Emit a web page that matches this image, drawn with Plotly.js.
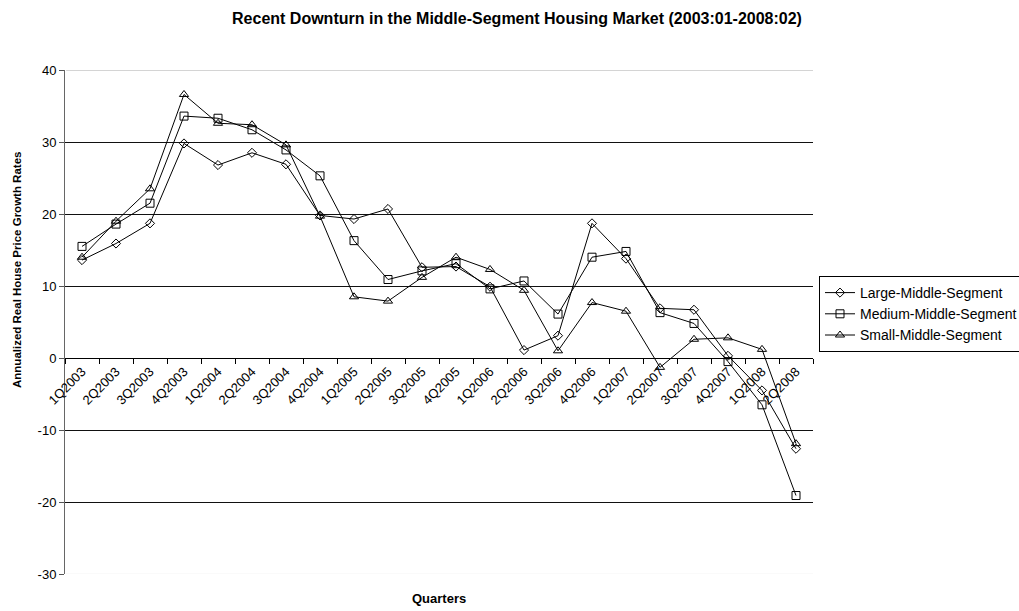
<!DOCTYPE html>
<html>
<head>
<meta charset="utf-8">
<script src="https://cdn.plot.ly/plotly-3.0.1.min.js"></script>
<style>html,body{margin:0;padding:0;background:#fff;}#chart{width:1019px;height:611px;}</style>
</head>
<body>
<div id="chart"></div>
<script>
const quarters = ["1Q2003","2Q2003","3Q2003","4Q2003","1Q2004","2Q2004","3Q2004","4Q2004",
  "1Q2005","2Q2005","3Q2005","4Q2005","1Q2006","2Q2006","3Q2006","4Q2006",
  "1Q2007","2Q2007","3Q2007","4Q2007","1Q2008","2Q2008"];
const largeMiddle = [13.6, 15.9, 18.7, 29.8, 26.8, 28.5, 26.9, 19.8, 19.3, 20.7, 12.6, 12.7, 9.9, 1.1, 3.1, 18.7, 13.8, 6.9, 6.7, 0.3, -4.5, -12.6];
const mediumMiddle = [15.5, 18.6, 21.5, 33.6, 33.3, 31.7, 28.9, 25.3, 16.3, 10.9, 12.1, 13.1, 9.6, 10.7, 6.1, 14.0, 14.8, 6.3, 4.8, -0.5, -6.5, -19.1];
const smallMiddle = [14.0, 19.0, 23.5, 36.6, 32.6, 32.4, 29.6, 19.7, 8.5, 7.9, 11.2, 14.0, 12.3, 9.4, 1.0, 7.7, 6.5, -1.3, 2.6, 2.8, 1.2, -11.9];
const yTickVals = [-30, -20, -10, 0, 10, 20, 30, 40];
const yTickText = ["-30", "-20", "-10", "0", "10", "20", "30", "40"];

const FONT = "Liberation Sans, Arial, sans-serif";
function mk(name, y, symbol, size) {
  return {
    type: "scatter", mode: "lines+markers", name: name, x: quarters, y: y,
    line: {color: "#000", width: 1},
    marker: {symbol: symbol, size: size, color: "#000", line: {color: "#000", width: 1}}
  };
}
const data = [
  mk("Large-Middle-Segment", largeMiddle, "diamond-open", 7),
  mk("Medium-Middle-Segment", mediumMiddle, "square-open", 8),
  mk("Small-Middle-Segment", smallMiddle, "triangle-up-open", 8)
];
const layout = {
  width: 1019, height: 611,
  paper_bgcolor: "#fff", plot_bgcolor: "#fff",
  font: {family: FONT, color: "#000", size: 13},
  margin: {l: 65, r: 206, t: 70, b: 37, autoexpand: false},
  showlegend: true,
  title: {text: "<b>Recent Downturn in the Middle-Segment Housing Market (2003:01-2008:02)</b>",
    font: {family: FONT, size: 16, color: "#000"},
    x: 517/1019, xref: "container", xanchor: "center", y: 1 - 18/611, yref: "container", yanchor: "middle"},
  xaxis: {
    type: "category", range: [-0.5, 21.5], anchor: "free", position: 3/7,
    tickson: "boundaries", ticks: "outside", ticklen: 5, tickcolor: "#000",
    showline: true, linecolor: "#000", linewidth: 1, showgrid: false, zeroline: false,
    tickangle: -45, tickfont: {family: FONT, size: 13, color: "#000"}
  },
  yaxis: {
    range: [-30, 40], tickvals: yTickVals, ticktext: yTickText,
    ticks: "outside", ticklen: 5, tickcolor: "#555",
    showline: true, linecolor: "#666", linewidth: 1,
    showgrid: true, gridcolor: "#111", gridwidth: 1, zeroline: false,
    tickfont: {family: FONT, size: 13, color: "#000"}
  },
  legend: {
    x: (819 - 65) / 748, y: (574 - 276) / 504, xanchor: "left", yanchor: "top",
    bordercolor: "#000", borderwidth: 1, bgcolor: "#fff",
    font: {family: FONT, size: 14, color: "#000"}, tracegroupgap: 0, itemwidth: 30
  },
  shapes: [
    {type: "line", xref: "paper", x0: 0.0015, x1: 1, yref: "y", y0: 40, y1: 40, line: {color: "#d4d4d4", width: 2}, layer: "below"},
    {type: "line", xref: "paper", x0: 0.0015, x1: 1, yref: "y", y0: -30, y1: -30, line: {color: "#fafafa", width: 2}, layer: "above"}
  ],
  annotations: [
    {text: "<b>Annualized Real House Price Growth Rates</b>", textangle: -90,
     xref: "paper", yref: "paper", x: (17 - 65) / 748, y: (574 - 270) / 504,
     xanchor: "center", yanchor: "middle", showarrow: false,
     font: {family: FONT, size: 11.5, color: "#000"}},
    {text: "<b>Quarters</b>", xref: "paper", yref: "paper",
     x: 0.5, y: (574 - 598) / 504, xanchor: "center", yanchor: "middle", showarrow: false,
     font: {family: FONT, size: 13, color: "#000"}}
  ]
};
Plotly.newPlot("chart", data, layout, {displayModeBar: false, staticPlot: true});
</script>
</body>
</html>
